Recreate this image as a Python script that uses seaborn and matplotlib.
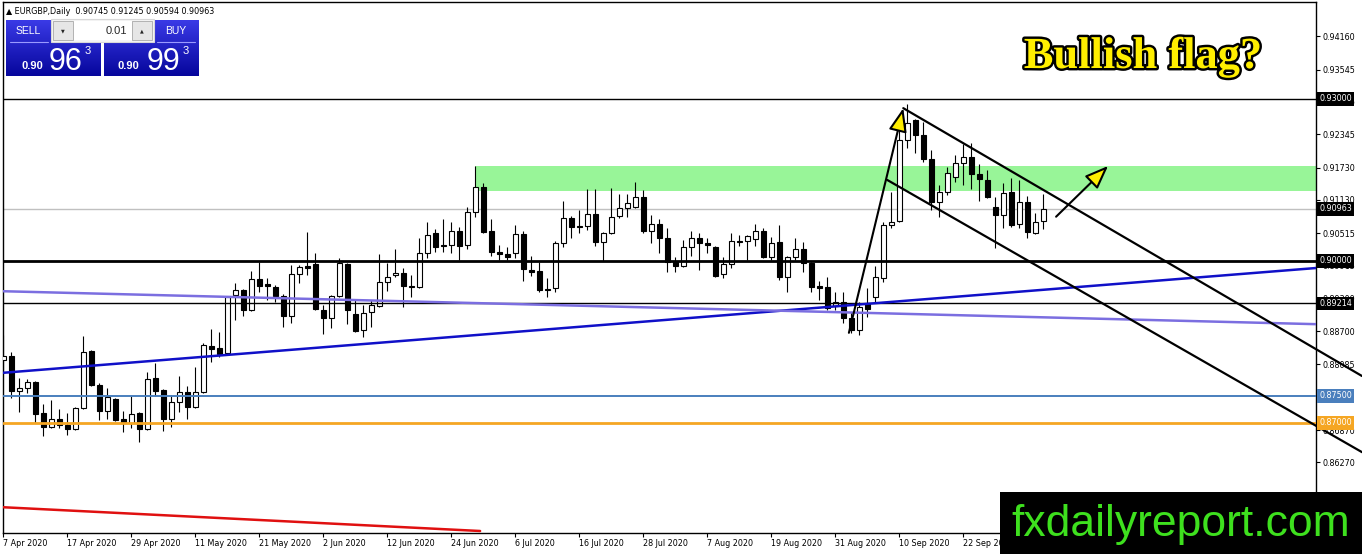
import numpy as np
import pandas as pd
import matplotlib
matplotlib.use("Agg")
import matplotlib.pyplot as plt
import matplotlib.patheffects as pe
from matplotlib.patches import Rectangle, FancyArrowPatch
from matplotlib.colors import LinearSegmentedColormap
import seaborn as sns

sns.set_style("white")
plt.rcParams['font.family'] = ['DejaVu Sans']

# EURGBP daily candles, 7 Apr 2020 .. 6 Oct 2020
dates = pd.bdate_range("2020-04-07", periods=131)

opens = [0.88166, 0.88240, 0.87592, 0.87648, 0.87759, 0.87185, 0.86926, 0.87074, 0.86963, 0.86889,
         0.87277, 0.88333, 0.87703, 0.87222, 0.87444, 0.87074, 0.87000, 0.87185, 0.86889, 0.87833,
         0.87611, 0.87074, 0.87389, 0.87574, 0.87296, 0.87574, 0.88426, 0.88389, 0.88296, 0.89370,
         0.89463, 0.89092, 0.89666, 0.89574, 0.89518, 0.89352, 0.88981, 0.89759, 0.89907, 0.89944,
         0.89092, 0.88944, 0.89352, 0.89944, 0.89018, 0.88722, 0.89055, 0.89166, 0.89611, 0.89740,
         0.89777, 0.89537, 0.89518, 0.90148, 0.90518, 0.90296, 0.90296, 0.90555, 0.90296, 0.90907,
         0.91370, 0.90555, 0.90166, 0.90129, 0.90148, 0.90500, 0.89833, 0.89815, 0.89481, 0.89500,
         0.90333, 0.90796, 0.90648, 0.90648, 0.90870, 0.90352, 0.90518, 0.90833, 0.90981, 0.91000,
         0.91185, 0.90555, 0.90685, 0.90426, 0.89981, 0.89907, 0.90259, 0.90426, 0.90333, 0.90259,
         0.89759, 0.89944, 0.90370, 0.90370, 0.90407, 0.90555, 0.90074, 0.90352, 0.89703, 0.90074,
         0.90222, 0.89963, 0.89537, 0.89518, 0.89166, 0.89240, 0.88944, 0.88722, 0.89203, 0.89333,
         0.89685, 0.90666, 0.90740, 0.92240, 0.92611, 0.92333, 0.91889, 0.91092, 0.91277, 0.91555,
         0.91815, 0.91926, 0.91611, 0.91500, 0.91000, 0.90852, 0.91277, 0.90685, 0.91092, 0.90518,
         0.90745]
highs = [0.88629, 0.88315, 0.87833, 0.87815, 0.87777, 0.87352, 0.87426, 0.87259, 0.87185, 0.87296,
         0.88611, 0.88352, 0.87740, 0.87648, 0.87463, 0.87222, 0.87500, 0.87203, 0.87944, 0.88111,
         0.87629, 0.87518, 0.87870, 0.87685, 0.88037, 0.88481, 0.88740, 0.88685, 0.89352, 0.89592,
         0.89481, 0.89815, 0.89981, 0.89685, 0.89555, 0.89389, 0.89926, 0.89926, 0.90537, 0.90148,
         0.89185, 0.89370, 0.90055, 0.89963, 0.89277, 0.89185, 0.89277, 0.90129, 0.89963, 0.90222,
         0.89870, 0.89740, 0.90426, 0.90722, 0.90592, 0.90777, 0.90722, 0.90629, 0.91000, 0.91759,
         0.91444, 0.90777, 0.90296, 0.90259, 0.90666, 0.90555, 0.90092, 0.89981, 0.89685, 0.90370,
         0.91111, 0.90833, 0.90944, 0.91333, 0.91333, 0.90537, 0.91352, 0.91240, 0.91240, 0.91463,
         0.91315, 0.90852, 0.90777, 0.90611, 0.90074, 0.90389, 0.90555, 0.90518, 0.90426, 0.90277,
         0.90074, 0.90518, 0.90481, 0.90481, 0.90685, 0.90611, 0.90444, 0.90666, 0.90092, 0.90426,
         0.90352, 0.89981, 0.89629, 0.89703, 0.89426, 0.89426, 0.89055, 0.89240, 0.89500, 0.89907,
         0.90722, 0.91277, 0.92703, 0.92907, 0.92629, 0.92574, 0.92055, 0.91407, 0.91740, 0.91963,
         0.92166, 0.92185, 0.91796, 0.91685, 0.91185, 0.91444, 0.91537, 0.91500, 0.91203, 0.90889,
         0.91245]
lows = [0.87981, 0.87463, 0.87203, 0.87555, 0.87000, 0.86759, 0.86907, 0.86907, 0.86777, 0.86870,
        0.87259, 0.87685, 0.87055, 0.87074, 0.87037, 0.86833, 0.86907, 0.86648, 0.86870, 0.87500,
        0.86852, 0.86926, 0.87203, 0.87074, 0.87277, 0.87555, 0.88129, 0.88222, 0.88277, 0.88907,
        0.88981, 0.89074, 0.89426, 0.89277, 0.89240, 0.88777, 0.88852, 0.89592, 0.89740, 0.89092,
        0.88648, 0.88759, 0.89333, 0.88833, 0.88685, 0.88592, 0.88777, 0.89148, 0.89444, 0.89703,
        0.89148, 0.89333, 0.89500, 0.90055, 0.90166, 0.90166, 0.90148, 0.90018, 0.90222, 0.90815,
        0.90518, 0.90092, 0.90018, 0.90018, 0.90055, 0.89629, 0.89722, 0.89426, 0.89333, 0.89426,
        0.90259, 0.90426, 0.90518, 0.90574, 0.90277, 0.90000, 0.90500, 0.90796, 0.90815, 0.90981,
        0.90518, 0.90333, 0.90148, 0.89796, 0.89796, 0.89889, 0.90092, 0.89833, 0.90148, 0.89703,
        0.89685, 0.89870, 0.90277, 0.90018, 0.90277, 0.90055, 0.90018, 0.89648, 0.89426, 0.90018,
        0.89796, 0.89426, 0.89277, 0.89092, 0.89092, 0.88852, 0.88666, 0.88629, 0.88963, 0.89222,
        0.89611, 0.90611, 0.90722, 0.92092, 0.92000, 0.91833, 0.90944, 0.90815, 0.91222, 0.91463,
        0.91407, 0.91333, 0.91111, 0.91166, 0.90240, 0.90611, 0.90629, 0.90611, 0.90426, 0.90500,
        0.90594]
closes = [0.88240, 0.87592, 0.87648, 0.87759, 0.87166, 0.86926, 0.87074, 0.86963, 0.86889, 0.87277,
          0.88315, 0.87703, 0.87222, 0.87481, 0.87055, 0.87000, 0.87166, 0.86889, 0.87815, 0.87592,
          0.87074, 0.87389, 0.87574, 0.87296, 0.87574, 0.88444, 0.88370, 0.88277, 0.89333, 0.89463,
          0.89092, 0.89666, 0.89537, 0.89537, 0.89352, 0.88981, 0.89759, 0.89889, 0.89870, 0.89111,
          0.88944, 0.89352, 0.89963, 0.89092, 0.88703, 0.89037, 0.89185, 0.89611, 0.89703, 0.89777,
          0.89537, 0.89518, 0.90148, 0.90481, 0.90259, 0.90277, 0.90555, 0.90277, 0.90907, 0.91370,
          0.90537, 0.90166, 0.90129, 0.90074, 0.90500, 0.89852, 0.89796, 0.89463, 0.89463, 0.90333,
          0.90796, 0.90629, 0.90629, 0.90870, 0.90352, 0.90518, 0.90815, 0.90981, 0.91074, 0.91185,
          0.90555, 0.90685, 0.90426, 0.89981, 0.89907, 0.90259, 0.90426, 0.90333, 0.90296, 0.89722,
          0.89944, 0.90370, 0.90352, 0.90463, 0.90555, 0.90074, 0.90333, 0.89703, 0.90074, 0.90222,
          0.89963, 0.89518, 0.89500, 0.89129, 0.89240, 0.88944, 0.88722, 0.89148, 0.89111, 0.89703,
          0.90666, 0.90722, 0.92240, 0.92555, 0.92333, 0.91889, 0.91092, 0.91277, 0.91629, 0.91815,
          0.91926, 0.91611, 0.91518, 0.91185, 0.90852, 0.91259, 0.90666, 0.91092, 0.90537, 0.90722,
          0.90963]

# horizontal levels: (price, colour, width, label box colour)
levels = [(0.93000, "black", 1.0, "black"),
          (0.90000, "black", 2.0, "black"),
          (0.89214, "black", 1.0, "black"),
          (0.87500, "#4a7fbd", 1.4, "#4a7fbd"),
          (0.87000, "#f5a623", 2.0, "#f5a623")]
bid_price = 0.90963
zone_start, zone_low, zone_high = 59, 0.9130, 0.91750

# trend lines as (bar index, price) pairs
blue_trend = ([0, 164.1], [0.8793, 0.8987])
purple_trend = ([0, 164.1], [0.8944, 0.8883])
red_trend = ([0, 59.6], [0.8544, 0.8500])
upper_channel = ([112.5, 169.84], [0.9283, 0.8787])
lower_channel = ([110.5, 169.84], [0.9150, 0.8646])
flag_pole = ((105.7, 0.8867), (112.5, 0.9283))
breakout_arrow = ((131.6, 0.9082), (138.1, 0.9176))

# scale labels that are not fully hidden behind a level box
price_ticks = [0.94160, 0.93545, 0.92945, 0.92345, 0.91730, 0.91130, 0.90515,
               0.89915, 0.89300, 0.88700, 0.88085, 0.86870, 0.86270]

df = pd.DataFrame({"open": opens, "high": highs, "low": lows, "close": closes}, index=dates)
df["bar"] = np.arange(len(df))
df["up"] = df["close"] >= df["open"]

W, H = 1362, 554
fig = plt.figure(figsize=(W / 100, H / 100), dpi=100)
ax = fig.add_axes([3 / W, 21 / H, 1313 / W, 531 / H])

# resistance zone
ax.add_patch(Rectangle((zone_start, zone_low), 170 - zone_start, zone_high - zone_low,
                       facecolor="#98f598", edgecolor="none", zorder=1))
ax.axhline(bid_price, color="#c0c0c0", lw=1, zorder=1.5)

# candles
ax.vlines(df["bar"], df["low"], df["high"], color="black", lw=0.8, zorder=2)
ax.bar(df["bar"], (df["close"] - df["open"]).abs(), bottom=df[["open", "close"]].min(axis=1),
       width=0.62, color=np.where(df["up"], "white", "black"), edgecolor="black",
       linewidth=0.8, zorder=3)

for price, col, lw, _ in levels:
    ax.axhline(price, color=col, lw=lw, zorder=4)

sns.lineplot(x=blue_trend[0], y=blue_trend[1], ax=ax, color="#1010c8", lw=1.8, zorder=5)
sns.lineplot(x=purple_trend[0], y=purple_trend[1], ax=ax, color="#7b6ee0", lw=1.8, zorder=5)
sns.lineplot(x=red_trend[0], y=red_trend[1], ax=ax, color="#e01010", lw=1.8, zorder=5)
for line in (upper_channel, lower_channel):
    sns.lineplot(x=line[0], y=line[1], ax=ax, color="black", lw=1.6, zorder=6, clip_on=False)

for a, b in (flag_pole, breakout_arrow):
    ax.add_patch(FancyArrowPatch(a, b, arrowstyle="-|>,head_length=0.9,head_width=0.35",
                                 mutation_scale=16, facecolor="#ffee00", edgecolor="black",
                                 lw=1.5, shrinkA=0, shrinkB=0, zorder=7))

ax.set_xlim(-0.04, 164.09)
ax.set_ylim(0.84963, 0.94796)

# axes styling like the terminal
for s in ax.spines.values():
    s.set_color("black")
    s.set_linewidth(1)
ax.yaxis.tick_right()
ax.set_yticks(price_ticks)
ax.set_yticklabels([f"{p:.5f}" for p in price_ticks])
tick_idx = list(range(0, 121, 8))
ax.set_xticks(tick_idx)
ax.set_xticklabels([f"{d.day} {d.strftime('%b %Y')}" for d in df.index[tick_idx]], ha="left")
ax.tick_params(axis="both", which="both", direction="out", length=3, width=0.8,
               color="black", labelsize=5.8, labelcolor="black", pad=1.5,
               bottom=True, right=True, left=False, top=False)
ax.set_xlabel("")
ax.set_ylabel("")

# price label boxes on the scale
for price, _, _, box in levels + [(bid_price, None, None, "black")]:
    ax.annotate(f"{price:.5f}", xy=(1, price), xycoords=("axes fraction", "data"),
                xytext=(2.2, 0), textcoords="offset points", ha="left", va="center",
                fontsize=5.8, color="white", annotation_clip=False, zorder=10,
                bbox=dict(boxstyle="square,pad=0.25", fc=box, ec="none"))

# overlay in pixel space for the terminal widgets and captions
ov = fig.add_axes([0, 0, 1, 1], zorder=10)
ov.axis("off")

ov.text(6, 11, "▲ EURGBP,Daily  0.90745 0.91245 0.90594 0.90963", fontsize=5.8,
        va="center", ha="left", color="black")

cmap = LinearSegmentedColormap.from_list("btn", ["#3a3ae6", "#06069c"])
grad = np.linspace(0, 1, 64).reshape(-1, 1)
for x0 in (6, 104):
    ov.imshow(grad, cmap=cmap, extent=(x0, x0 + 95, 76, 20), aspect="auto",
              origin="upper", zorder=1)
ov.plot([10, 48], [42, 42], color="#9a9aff", lw=0.8, zorder=2)
ov.plot([157, 195], [42, 42], color="#9a9aff", lw=0.8, zorder=2)
ov.add_patch(Rectangle((51, 19), 103, 23, fc="#f4f4f4", ec="#d8d8d8", lw=0.8, zorder=3))
ov.add_patch(Rectangle((73, 21), 59, 19, fc="white", ec="none", zorder=4))
for bx in (53, 132):
    ov.add_patch(Rectangle((bx, 21), 20, 19, fc="#e6e6e6", ec="#a8a8a8", lw=0.6, zorder=4))
ov.text(63, 31, "▼", fontsize=3.5, ha="center", va="center", zorder=5)
ov.text(142, 31, "▲", fontsize=3.5, ha="center", va="center", zorder=5)
ov.text(127, 31, "0.01", fontsize=8, family="Liberation Sans", ha="right", va="center", zorder=5)
ov.text(28, 31, "SELL", fontsize=7.5, family="Liberation Sans", color="white",
        ha="center", va="center", zorder=5)
ov.text(176, 31, "BUY", fontsize=7.5, family="Liberation Sans", color="white",
        ha="center", va="center", zorder=5)
for x_small, x_big, big in ((21, 49, "96"), (118, 147, "99")):
    ov.text(x_small, 69, "0.90", fontsize=8, fontweight="bold", family="Liberation Sans",
            color="white", ha="left", va="baseline", zorder=5)
    ov.text(x_big, 70, big, fontsize=22, family="Liberation Sans", color="white",
            ha="left", va="baseline", zorder=5)
    ov.text(x_big + 36, 51, "3", fontsize=8, family="Liberation Sans", color="white",
            ha="left", va="center", zorder=5)

ov.text(1143, 57, "Bullish flag?", fontsize=32, fontweight="bold", family="Liberation Serif",
        color="#ffee00", ha="center", va="center", zorder=5,
        path_effects=[pe.withStroke(linewidth=3.5, foreground="black")])

ov.add_patch(Rectangle((1000, 492), 362, 62, fc="black", ec="none", zorder=5))
ov.text(1181, 536, "fxdailyreport.com", fontsize=32, family="Liberation Sans",
        color="#3ee01e", ha="center", va="baseline", zorder=6)

ov.set_xlim(0, W)
ov.set_ylim(H, 0)

fig.savefig("out.png", dpi=100)
